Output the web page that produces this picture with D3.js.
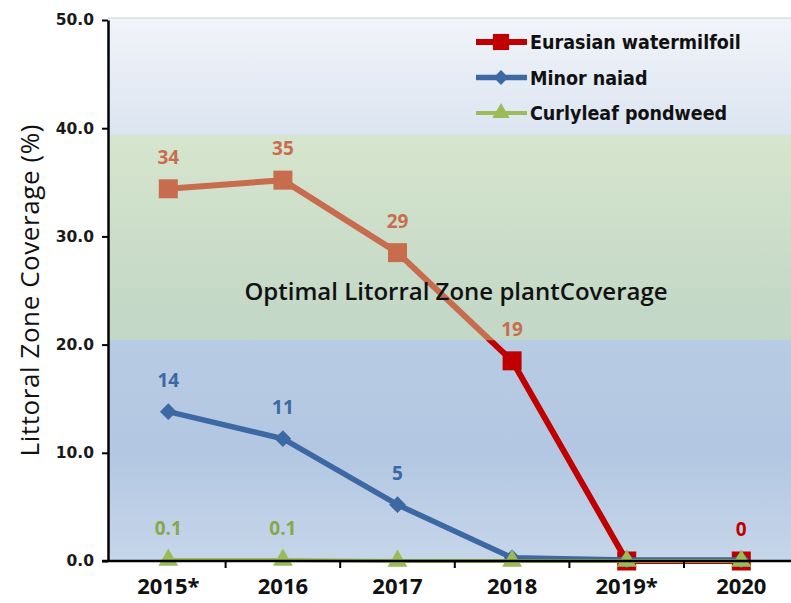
<!DOCTYPE html>
<html>
<head>
<meta charset="utf-8">
<script src="https://cdn.jsdelivr.net/npm/d3@7"></script>
<style>
    body { margin: 0; background: #ffffff; }
    svg { display: block; }
</style>
</head>
<body>
<svg id="chart"></svg>
<script>
const years = [ '2015*', '2016', '2017', '2018', '2019*', '2020' ];
const milfoil = [ 34.4, 35.2, 28.5, 18.5, 0, 0 ];
const milfoil_labels = [ '34', '35', '29', '19', '', '0' ];
const naiad = [ 13.8, 11.3, 5.2, 0.3, 0.1, 0.1 ];
const naiad_labels = [ '14', '11', '5', '', '', '' ];
const pondweed = [ 0.1, 0.1, 0, 0, 0, 0 ];
const pondweed_labels = [ '0.1', '0.1', '', '', '', '' ];
const y_ticks = [ 0, 10, 20, 30, 40, 50 ];
const optimal_band = [ 20.4, 39.4 ];
const band_text = 'Optimal Litorral Zone plantCoverage';
const y_title = 'Littoral Zone Coverage (%)';

class LineChart {
    constructor( config, series ) {
        this.config = {
            parent: config.parent,
            width: config.width || 256,
            height: config.height || 256,
            margin: config.margin || { top:10, right:10, bottom:10, left:10 }
        };
        this.series = series;
        this.init();
    }

    init() {
        let self = this;

        self.svg = d3.select( self.config.parent )
            .attr( 'width', self.config.width )
            .attr( 'height', self.config.height );

        self.chart = self.svg.append( 'g' )
            .attr( 'transform', `translate(${self.config.margin.left}, ${self.config.margin.top})` );

        self.inner_width = self.config.width - self.config.margin.left - self.config.margin.right;
        self.inner_height = self.config.height - self.config.margin.top - self.config.margin.bottom;

        self.xscale = d3.scaleBand()
            .domain( years )
            .range( [ 3, 3 + 6 * 114.6 ] );

        self.yscale = d3.scaleLinear()
            .domain( [ 0, 50 ] )
            .range( [ self.inner_height, 0 ] );

        const grad = self.svg.append( 'defs' ).append( 'linearGradient' )
            .attr( 'id', 'bg' )
            .attr( 'x1', 0 ).attr( 'y1', 0 ).attr( 'x2', 0 ).attr( 'y2', 1 );
        grad.append( 'stop' ).attr( 'offset', '0%' ).attr( 'stop-color', '#f1f4f9' );
        grad.append( 'stop' ).attr( 'offset', '55%' ).attr( 'stop-color', '#b9cce4' );
        grad.append( 'stop' ).attr( 'offset', '80%' ).attr( 'stop-color', '#b3c7e2' );
        grad.append( 'stop' ).attr( 'offset', '100%' ).attr( 'stop-color', '#c6d6ea' );

        self.chart.append( 'rect' )
            .attr( 'x', 0 )
            .attr( 'y', -2 )
            .attr( 'width', self.inner_width )
            .attr( 'height', self.inner_height + 2 )
            .attr( 'fill', 'url(#bg)' );

        self.chart.append( 'line' )
            .attr( 'x1', 0 ).attr( 'x2', self.inner_width )
            .attr( 'y1', -2 ).attr( 'y2', -2 )
            .attr( 'stroke', '#cfd3d8' )
            .attr( 'stroke-width', 1 );

        self.svg.append( 'text' )
            .attr( 'transform', `translate(39, ${self.config.margin.top + self.yscale( 25 )}) rotate(-90)` )
            .attr( 'text-anchor', 'middle' )
            .attr( 'textLength', 332 )
            .attr( 'lengthAdjust', 'spacing' )
            .style( 'font-family', '"Open Sans", sans-serif' )
            .style( 'font-size', '26px' )
            .attr( 'fill', '#111' )
            .text( y_title );
    }

    render() {
        let self = this;
        const cx = d => self.xscale( d ) + self.xscale.bandwidth() / 2;

        const line = d3.line()
            .x( ( d, i ) => cx( years[i] ) )
            .y( d => self.yscale( d ) );

        self.series.forEach( s => {
            self.chart.append( 'path' )
                .datum( s.values )
                .attr( 'd', line )
                .attr( 'fill', 'none' )
                .attr( 'stroke', s.color )
                .attr( 'stroke-width', s.line_width )
                .attr( 'stroke-linejoin', 'round' );

            self.chart.selectAll( null )
                .data( s.values )
                .enter()
                .append( 'path' )
                .attr( 'd', d3.symbol( s.symbol, s.size ) )
                .attr( 'transform', ( d, i ) => `translate(${cx( years[i] )}, ${self.yscale( d )}) rotate(${s.rotate})` )
                .attr( 'fill', s.color );

            self.chart.selectAll( null )
                .data( s.values )
                .enter()
                .append( 'text' )
                .attr( 'x', ( d, i ) => cx( years[i] ) )
                .attr( 'y', d => self.yscale( d ) - 25 )
                .attr( 'text-anchor', 'middle' )
                .style( 'font-family', '"Open Sans", sans-serif' )
                .style( 'font-weight', 'bold' )
                .style( 'font-size', '19px' )
                .attr( 'fill', s.label_color )
                .text( ( d, i ) => s.labels[i] );
        });

        // the optimal zone sits over the lines, which tints the red line orange
        self.chart.append( 'rect' )
            .attr( 'x', 0 )
            .attr( 'y', self.yscale( optimal_band[1] ) )
            .attr( 'width', self.inner_width )
            .attr( 'height', self.yscale( optimal_band[0] ) - self.yscale( optimal_band[1] ) )
            .attr( 'fill', 'rgb(208,230,165)' )
            .attr( 'fill-opacity', 0.47 );

        self.chart.append( 'text' )
            .attr( 'x', 348 )
            .attr( 'y', self.yscale( 30 ) + 64 )
            .attr( 'text-anchor', 'middle' )
            .style( 'font-family', '"Open Sans", sans-serif' )
            .style( 'font-weight', 600 )
            .style( 'font-size', '24px' )
            .attr( 'fill', '#111111' )
            .text( band_text );

        const yaxis = d3.axisLeft( self.yscale )
            .tickValues( y_ticks )
            .tickFormat( d3.format( '.1f' ) )
            .tickSize( 6 )
            .tickPadding( 8 )
            .tickSizeOuter( 0 );

        const yaxis_group = self.chart.append( 'g' )
            .call( yaxis );
        yaxis_group.select( '.domain' ).attr( 'stroke-width', 2.5 );
        yaxis_group.selectAll( '.tick line' ).attr( 'stroke-width', 2 );
        yaxis_group.selectAll( 'text' )
            .style( 'font-family', '"DejaVu Sans", sans-serif' )
            .style( 'font-weight', 'bold' )
            .style( 'font-size', '15.5px' )
            .attr( 'fill', '#1a1a1a' );

        const boundaries = years.map( d => self.xscale( d ) );
        const xaxis_group = self.chart.append( 'g' )
            .attr( 'transform', `translate(0, ${self.inner_height})` );
        xaxis_group.append( 'line' )
            .attr( 'x1', -6 ).attr( 'x2', self.inner_width )
            .attr( 'stroke', '#000' )
            .attr( 'stroke-width', 2.5 );
        xaxis_group.selectAll( '.xtick' )
            .data( boundaries.slice( 1 ) )
            .enter()
            .append( 'line' )
            .attr( 'x1', d => d ).attr( 'x2', d => d )
            .attr( 'y1', 0 ).attr( 'y2', 7 )
            .attr( 'stroke', '#000' )
            .attr( 'stroke-width', 2 );
        xaxis_group.selectAll( '.xlabel' )
            .data( years )
            .enter()
            .append( 'text' )
            .attr( 'x', d => cx( d ) )
            .attr( 'y', 33 )
            .attr( 'text-anchor', 'middle' )
            .style( 'font-family', '"Open Sans", sans-serif' )
            .style( 'font-weight', 'bold' )
            .style( 'font-size', '22px' )
            .attr( 'fill', '#111' )
            .text( d => d );

        self.legend();
    }

    legend() {
        let self = this;
        const legend = self.svg.append( 'g' )
            .attr( 'transform', 'translate(476, 42)' );

        self.series.forEach( ( s, i ) => {
            const row = legend.append( 'g' )
                .attr( 'transform', `translate(0, ${i * 35.5})` );
            row.append( 'line' )
                .attr( 'x1', 0 ).attr( 'x2', 51 )
                .attr( 'stroke', s.color )
                .attr( 'stroke-width', s.line_width );
            row.append( 'path' )
                .attr( 'd', d3.symbol( s.symbol, s.legend_size ) )
                .attr( 'transform', `translate(25, 0) rotate(${s.rotate})` )
                .attr( 'fill', s.color );
            row.append( 'text' )
                .attr( 'x', 54 )
                .attr( 'y', 7 )
                .style( 'font-family', '"DejaVu Sans Condensed", "DejaVu Sans", sans-serif' )
                .style( 'font-weight', 'bold' )
                .style( 'font-size', '19.5px' )
                .attr( 'fill', '#111' )
                .text( s.name );
        });
    }
}

const series = [
    { name: 'Eurasian watermilfoil', values: milfoil, labels: milfoil_labels, color: '#c00000', label_color: '#c00000',
      line_width: 6, symbol: d3.symbolSquare, size: 361, legend_size: 260, rotate: 0 },
    { name: 'Minor naiad', values: naiad, labels: naiad_labels, color: '#3c68a4', label_color: '#3c68a4',
      line_width: 5.5, symbol: d3.symbolSquare, size: 140, legend_size: 110, rotate: 45 },
    { name: 'Curlyleaf pondweed', values: pondweed, labels: pondweed_labels, color: '#9bbb59', label_color: '#86a84a',
      line_width: 4, symbol: d3.symbolTriangle, size: 170, legend_size: 130, rotate: 0 }
];

let chart = new LineChart( {
    parent: '#chart',
    width: 791,
    height: 603,
    margin: { top:20, right:-10, bottom:42, left:108 }
}, series );
chart.render();
</script>
</body>
</html>
